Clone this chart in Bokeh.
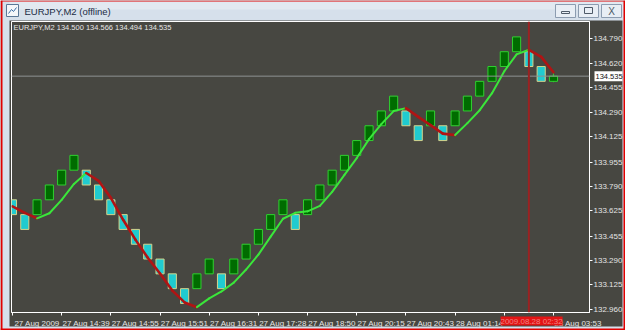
from bokeh.plotting import figure
from bokeh.models import (FixedTicker, Label, Span, Range1d, PrintfTickFormatter,
                          ColumnDataSource, GridBox, Column)
from bokeh.core.properties import value
from bokeh.embed import file_html
from bokeh.resources import INLINE

# ---------------- data ----------------
window_title = "EURJPY,M2 (offline)"
symbol = "EURJPY,M2"
last_ohlc = [134.500, 134.566, 134.494, 134.535]   # open high low close of the forming brick

brick_open = [133.7, 133.6, 133.6, 133.7, 133.8, 133.9, 133.9, 133.8, 133.7, 133.6,
              133.5, 133.4, 133.3, 133.2, 133.1, 133.1, 133.2, 133.2, 133.2, 133.3,
              133.4, 133.5, 133.6, 133.6, 133.6, 133.7, 133.8, 133.9, 134.0, 134.1,
              134.2, 134.3, 134.3, 134.2, 134.2, 134.2, 134.2, 134.3, 134.4, 134.5,
              134.6, 134.7, 134.7, 134.6, 134.500]
brick_close = [133.6, 133.5, 133.7, 133.8, 133.9, 134.0, 133.8, 133.7, 133.6, 133.5,
               133.4, 133.3, 133.2, 133.1, 133.0, 133.2, 133.3, 133.1, 133.3, 133.4,
               133.5, 133.6, 133.7, 133.5, 133.7, 133.8, 133.9, 134.0, 134.1, 134.2,
               134.3, 134.4, 134.2, 134.1, 134.3, 134.1, 134.3, 134.4, 134.5, 134.6,
               134.7, 134.8, 134.6, 134.5, 134.535]
trend_line = [133.655, 133.612, 133.575, 133.609, 133.700, 133.807, 133.881, 133.828, 133.713, 133.565,
              133.431, 133.309, 133.202, 133.087, 133.007, 132.975, 133.034, 133.081, 133.141, 133.229,
              133.330, 133.451, 133.572, 133.612, 133.622, 133.659, 133.754, 133.868, 133.982, 134.110,
              134.211, 134.299, 134.319, 134.260, 134.204, 134.147, 134.137, 134.218, 134.305, 134.420,
              134.568, 134.682, 134.713, 134.665, 134.561]

y_ticks = [134.790, 134.620, 134.455, 134.290, 134.125, 133.955, 133.790, 133.625,
           133.455, 133.290, 133.125, 132.960]
x_tick_bars = [0, 4, 8, 12, 16, 20, 24, 28, 32, 36, 40, 44]
x_tick_labels = ["27 Aug 2009", "27 Aug 14:39", "27 Aug 14:55", "27 Aug 15:51",
                 "27 Aug 16:31", "27 Aug 17:28", "27 Aug 18:50", "27 Aug 20:15",
                 "27 Aug 20:43", "28 Aug 01:14", "", "28 Aug 03:53"]
cursor_bar = 42
cursor_time = "2009.08.28 02:32"

# ---------------- styles / geometry ----------------
W, H = 625, 330
FL, FR, FT, FB = 11, 592, 21, 313         # frame edges in canvas px
XR = (-0.08, 46.93)
YR = (132.939, 134.904)
DARK = "#474741"
LIGHT = "#d6e0eb"
AX_TXT = "#e4e4e4"
FONT = "Liberation Sans"

p = figure(width=W, height=H, output_backend="svg", toolbar_location=None,
           x_range=Range1d(*XR), y_range=Range1d(*YR), y_axis_location="right",
           min_border_left=FL, min_border_right=W - FR, min_border_top=FT,
           min_border_bottom=H - FB)
p.background_fill_color = DARK
p.border_fill_color = DARK
p.outline_line_color = "white"
p.outline_line_width = 1
p.grid.visible = False

yax = p.yaxis[0]
yax.ticker = FixedTicker(ticks=y_ticks)
yax.formatter = PrintfTickFormatter(format="%.3f")
yax.major_label_text_font = FONT
yax.major_label_text_font_size = "8px"
yax.major_label_text_color = AX_TXT
yax.major_tick_out = 3
yax.major_tick_in = 0
yax.major_tick_line_color = "white"
yax.minor_tick_line_color = None
yax.axis_line_color = "white"
yax.major_label_standoff = 1

xax = p.xaxis[0]
lab_pos = [t + 2 for t in x_tick_bars]
xax.ticker = FixedTicker(ticks=lab_pos, minor_ticks=x_tick_bars)
xax.major_label_overrides = {lp: lab for lp, lab in zip(lab_pos, x_tick_labels)}
xax.major_tick_out = 0
xax.major_tick_in = 0
xax.major_tick_line_color = None
xax.minor_tick_out = 3
xax.minor_tick_in = 0
xax.minor_tick_line_color = "white"
xax.axis_line_color = "white"
xax.major_label_standoff = 3
xax.major_label_text_font = FONT
xax.major_label_text_font_size = "8px"
xax.major_label_text_color = AX_TXT

# ---------------- bricks ----------------
n = len(brick_open)
idx = list(range(n))
tops = [max(o, c) for o, c in zip(brick_open, brick_close)]
bots = [min(o, c) for o, c in zip(brick_open, brick_close)]
up = [c >= o for o, c in zip(brick_open, brick_close)]
fill = ["#006c00" if u else "#20cbd0" for u in up]
edge = ["#30d030" if u else "#d4d48c" for u in up]
src = ColumnDataSource(dict(x=idx, top=tops, bottom=bots, fill=fill, edge=edge))

p.segment(x0=[n - 1], y0=[last_ohlc[2]], x1=[n - 1], y1=[last_ohlc[1]],
          line_color="#30d030", line_width=1)
p.vbar(x="x", width=0.66, top="top", bottom="bottom", source=src,
       fill_color="fill", line_color="edge", line_width=1)

# ---------------- trend line ----------------
y0 = trend_line[:-1]
y1 = trend_line[1:]
seg_col = ["#3ae63a" if b >= a else "#b01414" for a, b in zip(y0, y1)]
seg_w = [2 if b >= a else 2.6 for a, b in zip(y0, y1)]
p.segment(x0=idx[:-1], y0=y0, x1=idx[1:], y1=y1, line_color=seg_col,
          line_width=seg_w, line_cap="round")

p.add_layout(Span(location=last_ohlc[3], dimension="width", line_color="#8e9292", line_width=1))
p.add_layout(Span(location=cursor_bar, dimension="height", line_color="#9a2222", line_width=2))

info = symbol + "  " + " ".join(f"{v:.3f}" for v in last_ohlc)
p.add_layout(Label(x=2, y=FB - FT - 6.5, x_units="screen", y_units="screen", text=info,
                   text_font=FONT, text_font_size="7.5px", text_color="#e6e6e6",
                   text_baseline="middle"))

# ---------------- overlay: window chrome + axis flags ----------------
bpp = (XR[1] - XR[0]) / (FR - FL)
ppp = (YR[1] - YR[0]) / (FB - FT)
ext_x = (XR[0] - FL * bpp, XR[1] + (W - FR) * bpp)
ext_y = (YR[0] - (H - FB) * ppp, YR[1] + FT * ppp)

ov = figure(width=W, height=H, output_backend="svg", toolbar_location=None,
            x_range=Range1d(0, W), y_range=Range1d(H, 0),
            x_axis_location=None, y_axis_location=None,
            min_border_left=0, min_border_right=0, min_border_top=0, min_border_bottom=0)
ov.extra_x_ranges = {"bars": Range1d(*ext_x)}
ov.extra_y_ranges = {"price": Range1d(*ext_y)}
ov.background_fill_alpha = 0
ov.border_fill_alpha = 0
ov.outline_line_color = None
ov.grid.visible = False

# title bar and frame strips
ov.quad(left=[0], right=[W], top=[0], bottom=[20], fill_color=LIGHT, line_color=None)
ov.quad(left=[0], right=[W], top=[0], bottom=[9], fill_color="#e2e9f1", line_color=None)
ov.quad(left=[0, W - 3, 0], right=[9, W, W], top=[0, 0, 326], bottom=[H, H, H],
        fill_color=LIGHT, line_color=None)
# red outline
ov.quad(left=[0, W - 2, 0, 0], right=[2, W, W, W], top=[0, 0, 0, H - 2],
        bottom=[H, H, 1, H], fill_color="#e00000", line_color=None)
# icon
ov.quad(left=[6], right=[18], top=[4], bottom=[16], fill_color="#f4f7fa", line_color="#5b7896")
ov.line(x=[8, 11, 13, 16], y=[13, 9, 11, 7], line_color="#3a6ea5", line_width=1)
# buttons
ov.quad(left=[555, 578, 601], right=[575, 598, 621], top=[4, 4, 4], bottom=[17, 17, 17],
        fill_color="#e8eef5", line_color="#8c9cb0")
ov.quad(left=[561], right=[569], top=[11], bottom=[13], fill_color=None, line_color="#4e5a68")
ov.quad(left=[584], right=[592], top=[7], bottom=[13], fill_color=None, line_color="#4e5a68")
ov.text(x=[611], y=[11], text=["X"], text_font=value(FONT), text_font_size="10px",
        text_color="#4e5a68", text_align="center", text_baseline="middle")
ov.text(x=[24], y=[11], text=[window_title], text_font=value(FONT), text_font_size="9.5px",
        text_color="#1c2c44", text_align="left", text_baseline="middle")

# price flag on the right axis
ov.rect(x=[608], y=[last_ohlc[3]], width=28, height=10, height_units="screen",
        y_range_name="price", fill_color="white", line_color=None)
ov.text(x=[595], y=[last_ohlc[3]], text=[f"{last_ohlc[3]:.3f}"], y_range_name="price",
        text_font=value(FONT), text_font_size="7.5px", text_color="#111111",
        text_align="left", text_baseline="middle")

# cursor time flag on the time axis
ov.rect(x=[cursor_bar], y=[320.5], width=62, height=9, width_units="screen",
        x_range_name="bars", fill_color="#e21414", line_color=None)
ov.text(x=[cursor_bar], y=[321], text=[cursor_time], x_range_name="bars",
        text_font=value(FONT), text_font_size="8px", text_color="#f08080",
        text_align="center", text_baseline="middle")

layout = GridBox(children=[(Column(children=[p]), 0, 0), (Column(children=[ov]), 0, 0)])
open("out.html", "w").write(file_html(layout, INLINE))
